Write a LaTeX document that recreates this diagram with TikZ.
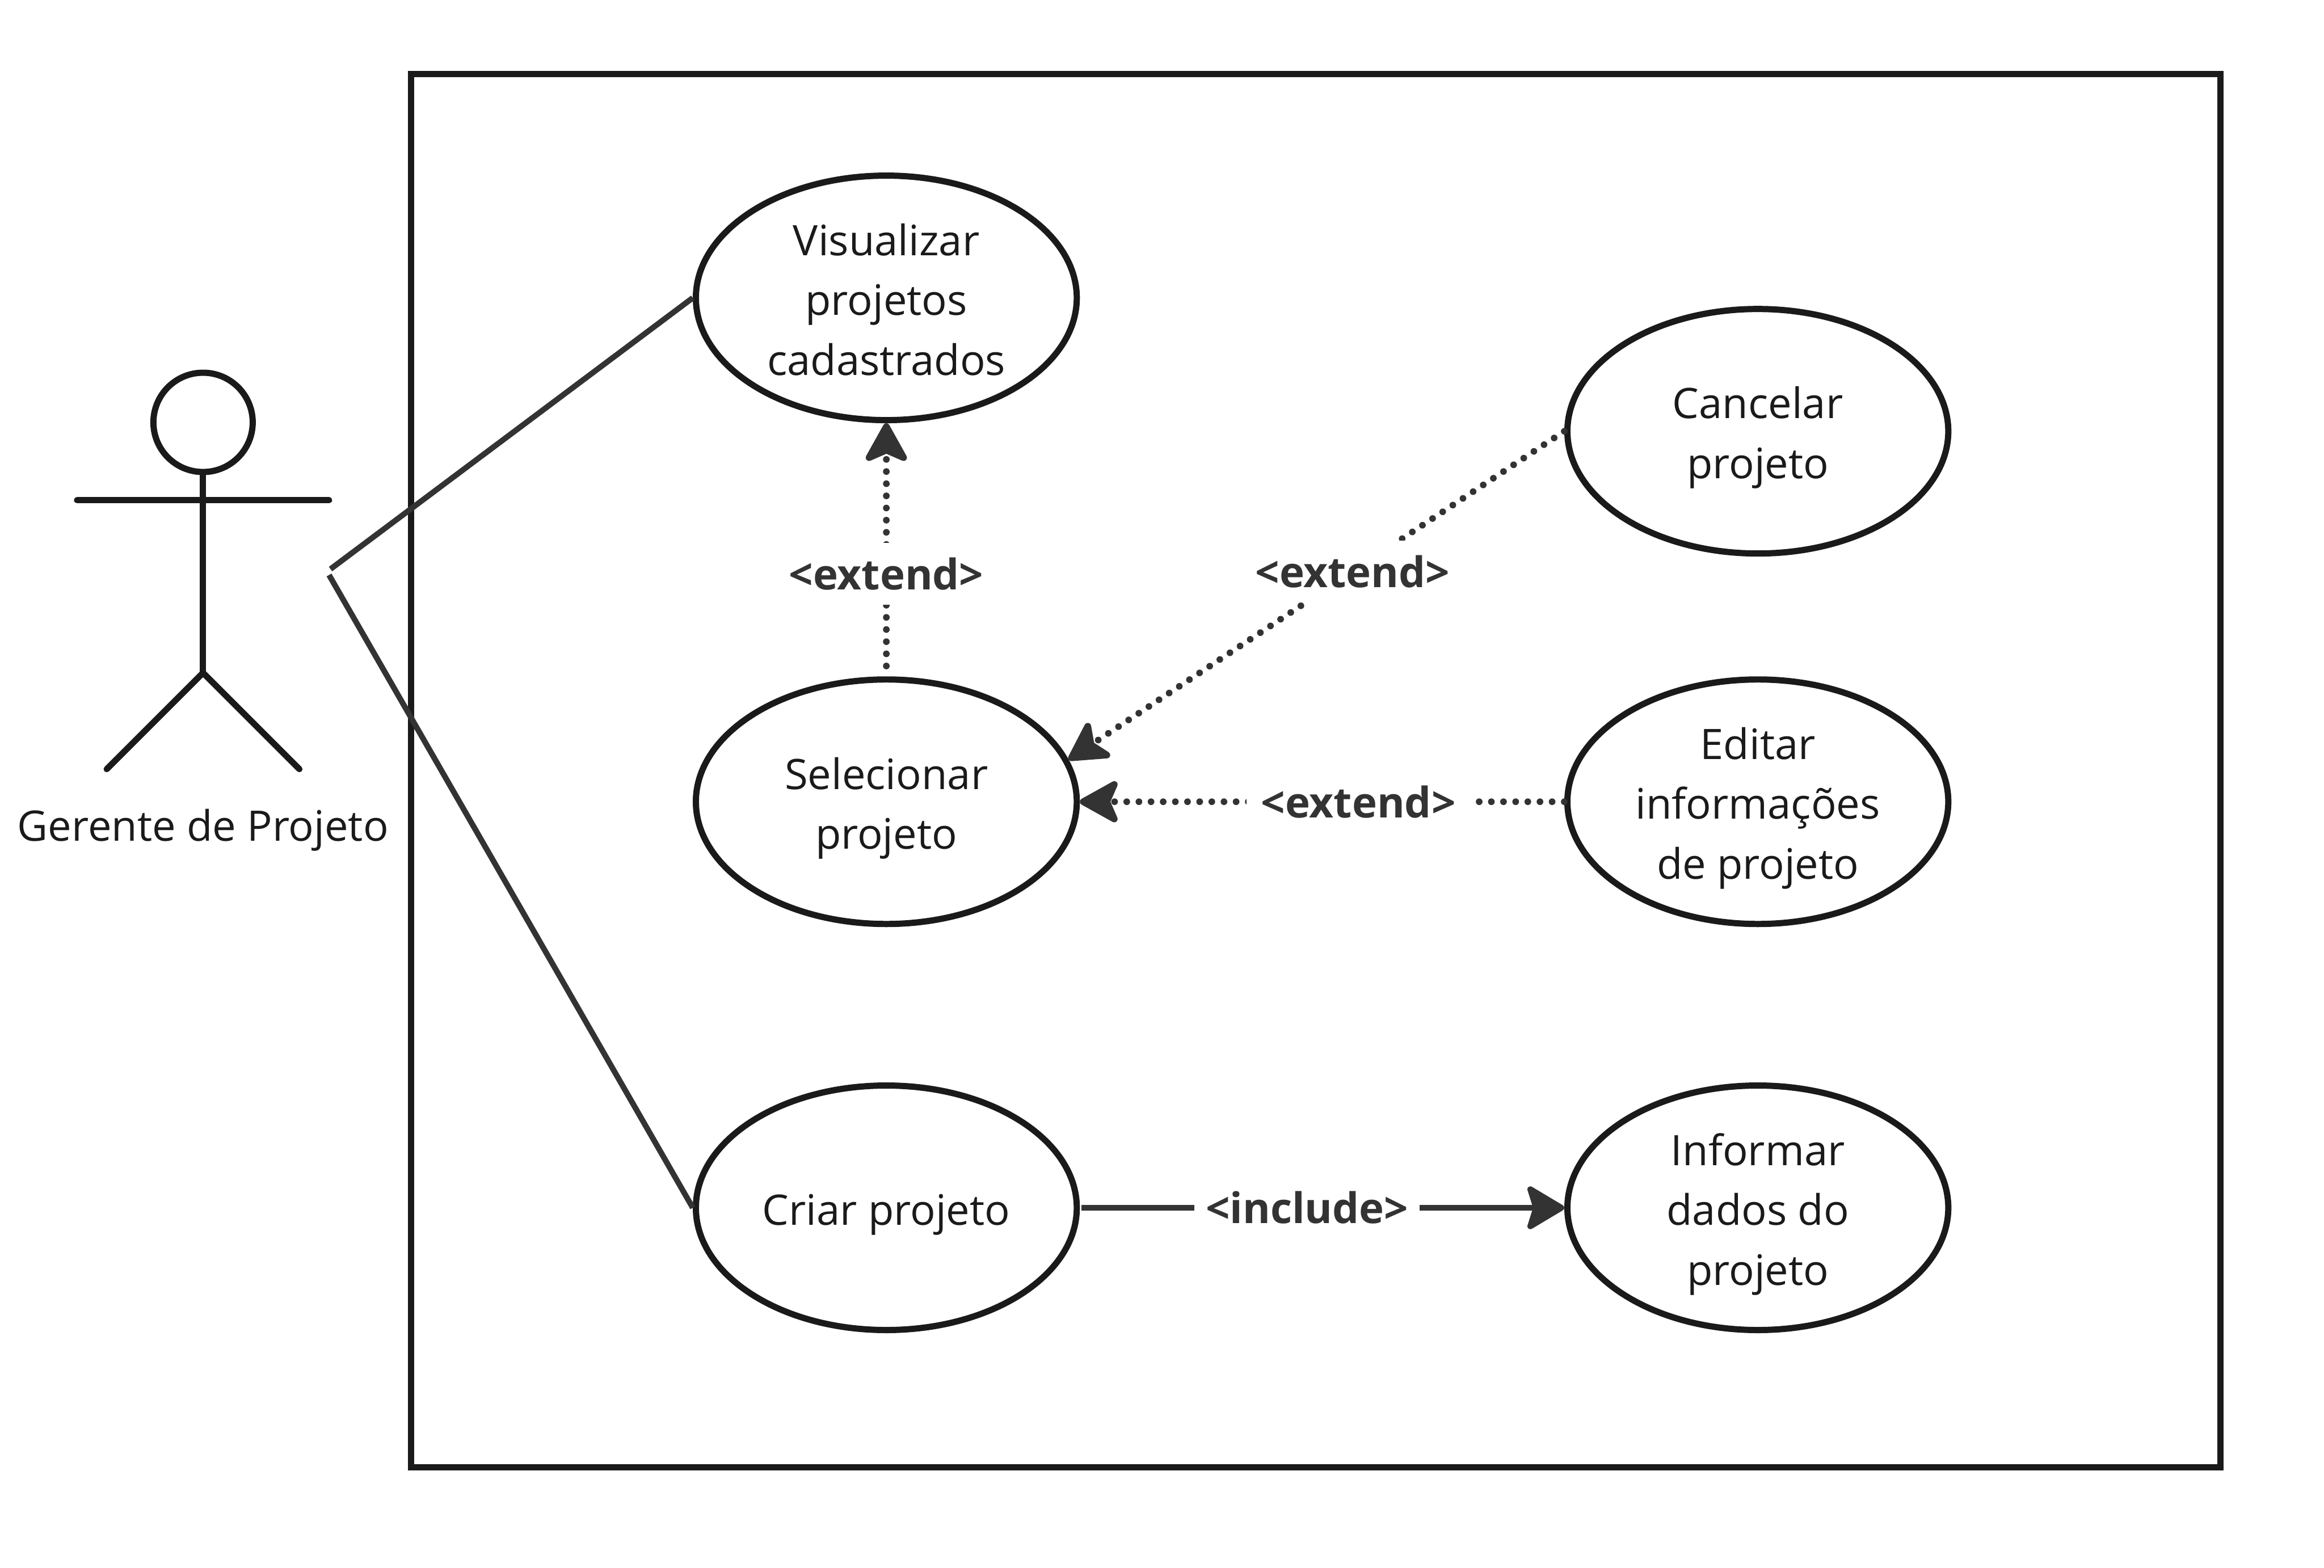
\documentclass[tikz,border=0pt]{standalone}
\usepackage{fontspec}
\setmainfont{Open Sans}
\usepackage{xcolor}
\usepackage{tikz}
\usetikzlibrary{positioning, arrows.meta, shapes.geometric}
\definecolor{traco}{HTML}{1A1A1A}
\definecolor{ligacao}{HTML}{333333}
\newcommand{\topo}{\rule{0pt}{8.6pt}}

\begin{document}
\begin{tikzpicture}[
    usecase/.style={ellipse, draw=traco, line width=0.042cm, inner xsep=0pt, inner ysep=-0.5pt, minimum width=2.57cm, minimum height=1.65cm, align=center, text=traco, font=\fontsize{8.07pt}{11.5pt}\selectfont},
    actorline/.style={draw=traco, line width=0.042cm, line cap=round},
    assoc/.style={draw=ligacao, line width=0.038cm},
    extendline/.style={draw=ligacao, line width=0.045cm, line cap=round, dash pattern=on 0pt off 0.082cm, -{Stealth[length=0.3cm, width=0.33cm, inset=0.07cm, round]}},
    includeline/.style={draw=ligacao, line width=0.04cm, -{Stealth[length=0.28cm, width=0.33cm, inset=0.05cm, round]}},
    linklabel/.style={fill=white, text=ligacao, inner xsep=0.1cm, inner ysep=0pt, minimum height=0.42cm, font=\fontsize{8.1pt}{10pt}\selectfont\bfseries},
]
\useasboundingbox (0, 0) rectangle (15.68, 10.58);

% system frame
\draw[draw=traco, line width=0.042cm] (2.775, 10.08) rectangle (14.98, 0.68);

% actor
\node[circle, draw=traco, line width=0.042cm, inner sep=0pt, minimum size=0.67cm] (head) at (1.37, 7.73) {};
\coordinate (hip) at (1.37, 6.04);
\coordinate (armleft) at (0.52, 7.205);
\coordinate (armright) at (2.22, 7.205);
\coordinate (footleft) at (0.72, 5.39);
\coordinate (footright) at (2.02, 5.39);
\draw[actorline] (head.south) -- (hip);
\draw[actorline] (armleft) -- (armright);
\draw[actorline] (footleft) -- (hip) -- (footright);
\node[text=traco, font=\fontsize{8.07pt}{11.5pt}\selectfont] (actorname) at (1.37, 4.98) {Gerente de Projeto};

% use cases
\node[usecase] (visualizar) at (5.98, 8.57) {\topo Visualizar\\projetos\\cadastrados\vphantom{p}};
\node[usecase] (cancelar) at (11.86, 7.67) {\topo Cancelar\\projeto};
\node[usecase] (selecionar) at (5.98, 5.17) {\topo Selecionar\\projeto};
\node[usecase] (editar) at (11.86, 5.17) {\topo Editar\\informações\\de projeto};
\node[usecase] (criar) at (5.98, 2.43) {\topo Criar projeto};
\node[usecase] (informar) at (11.86, 2.43) {\topo Informar\\dados do\\projeto};

% actor links
\coordinate (linkup) at (2.23, 6.74);
\coordinate (linkdown) at (2.22, 6.70);
\draw[assoc] (linkup) -- (visualizar.west);
\draw[assoc] (linkdown) -- (criar.west);

% relations
\draw[extendline, shorten <=0.07cm] (selecionar.north) -- (visualizar.south) node[pos=0.405, linklabel] (extvis) {<extend>};
\draw[extendline] (cancelar.west) -- (selecionar.13) node[pos=0.427, linklabel] (extcan) {<extend>};
\draw[extendline] (editar.west) -- (selecionar.east) node[pos=0.425, linklabel] (extedi) {<extend>};
\draw[includeline, shorten <=0.01cm] (criar.east) -- (informar.west) node[pos=0.469, linklabel, inner xsep=0.075cm] (inccri) {<include>};

\end{tikzpicture}
\end{document}
